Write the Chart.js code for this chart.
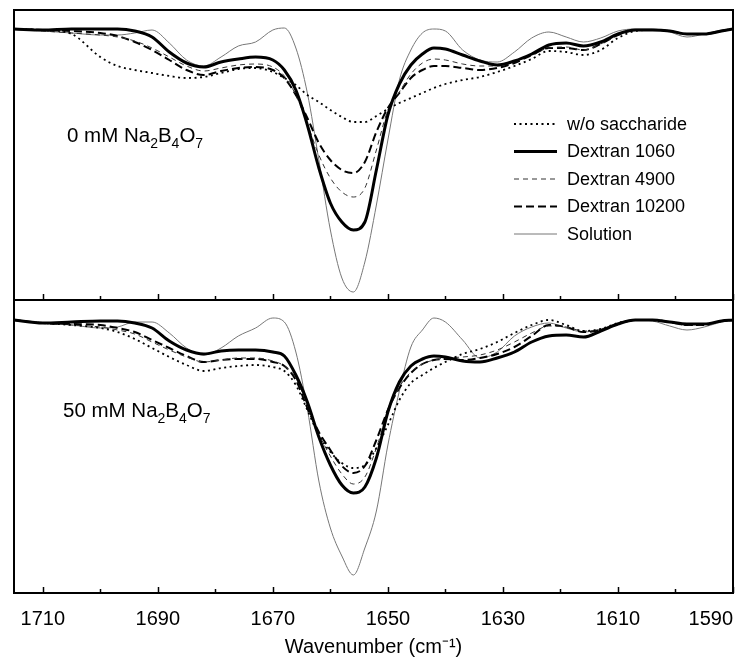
<!DOCTYPE html>
<html>
<head>
<meta charset="utf-8">
<script src="https://cdn.jsdelivr.net/npm/chart.js@4.4.0/dist/chart.umd.min.js"></script>
<style>
  body { margin: 0; background: #fff; }
  #wrap { position: relative; width: 746px; height: 664px; }
  #topPanel { position: absolute; left: 0; top: 0; }
  #bottomPanel { position: absolute; left: 0; top: 298px; }
</style>
</head>
<body>
<div id="wrap">
  <canvas id="topPanel" width="746" height="304"></canvas>
  <canvas id="bottomPanel" width="746" height="366"></canvas>
</div>
<script>
// wavenumber grid (cm-1), shared by both panels
const wavenumbers = [1715, 1710, 1705, 1700, 1697, 1694, 1691, 1688, 1685, 1682, 1679, 1676, 1673, 1670, 1668, 1666, 1664, 1662, 1660, 1658, 1656, 1654, 1652, 1650, 1648, 1646, 1644, 1642, 1640, 1637, 1634, 1631, 1628, 1625, 1622, 1619, 1616, 1613, 1610, 1607, 1604, 1601, 1598, 1595, 1592, 1590];

const seriesNames = ['w/o saccharide', 'Dextran 1060', 'Dextran 4900', 'Dextran 10200', 'Solution'];

// top panel: 0 mM borate (arbitrary units)
const top0mMWo = [271, 270, 266, 243, 234, 230, 227, 224, 222, 223, 227, 231, 232, 228, 222, 215, 205, 198, 190, 183, 178, 178, 184, 191, 197, 202, 207, 212, 216, 220, 223, 228, 234, 241, 249, 248, 245, 250, 262, 269, 270, 269, 266, 266, 269, 271];
const top0mMDex1060 = [271, 270, 271, 271, 271, 269, 263, 248, 237, 233, 238, 241, 243, 240, 230, 210, 175, 132, 97, 78, 70, 78, 130, 185, 216, 235, 246, 252, 251, 245, 239, 235, 239, 246, 255, 257, 254, 258, 266, 270, 270, 269, 266, 266, 269, 271];
const top0mMDex4900 = [271, 269, 267, 265, 263, 259, 252, 243, 234, 229, 232, 235, 236, 233, 224, 205, 176, 145, 122, 108, 103, 112, 150, 190, 208, 226, 237, 241, 240, 236, 234, 234, 238, 245, 252, 253, 250, 256, 265, 270, 270, 269, 266, 266, 269, 271];
const top0mMDex10200 = [271, 270, 269, 267, 264, 258, 250, 240, 230, 225, 229, 232, 233, 230, 222, 205, 182, 157, 140, 130, 127, 138, 168, 192, 207, 222, 230, 234, 234, 232, 230, 232, 237, 245, 252, 252, 250, 256, 265, 270, 270, 269, 266, 266, 269, 271];
const top0mMSolution = [271, 269, 267, 265, 265, 267, 270, 257, 240, 234, 243, 254, 258, 270, 272, 252, 207, 140, 70, 22, 8, 38, 95, 160, 220, 250, 267, 271, 269, 250, 240, 238, 248, 262, 268, 263, 258, 262, 269, 271, 271, 268, 263, 266, 270, 271];

// bottom panel: 50 mM borate (arbitrary units)
const bot50mMWo = [273, 270, 268, 265, 261, 254, 245, 236, 228, 222, 225, 227, 228, 226, 222, 208, 183, 158, 141, 130, 125, 128, 145, 168, 193, 210, 218, 225, 231, 239, 244, 251, 260, 268, 273, 268, 262, 264, 270, 273, 273, 271, 268, 268, 272, 273];
const bot50mMDex1060 = [273, 270, 271, 272, 272, 270, 265, 252, 243, 239, 242, 243, 243, 241, 237, 218, 191, 156, 128, 108, 100, 106, 135, 181, 211, 227, 234, 237, 236, 232, 231, 235, 241, 251, 257, 258, 256, 262, 269, 273, 273, 271, 269, 269, 272, 273];
const bot50mMDex4900 = [273, 270, 268, 266, 263, 259, 251, 243, 236, 231, 233, 235, 235, 232, 227, 215, 188, 159, 137, 119, 109, 116, 145, 181, 206, 221, 229, 233, 235, 236, 238, 243, 251, 260, 267, 266, 262, 263, 269, 273, 273, 271, 268, 268, 272, 273];
const bot50mMDex10200 = [273, 270, 269, 268, 265, 261, 253, 245, 237, 231, 233, 234, 234, 231, 227, 213, 185, 161, 143, 127, 120, 127, 153, 183, 205, 220, 229, 233, 234, 233, 235, 239, 246, 257, 268, 266, 261, 263, 269, 273, 273, 271, 268, 268, 272, 273];
const bot50mMSolution = [273, 270, 268, 265, 266, 271, 271, 260, 245, 238, 245, 257, 265, 275, 271, 241, 184, 112, 65, 37, 18, 45, 82, 148, 202, 246, 263, 275, 271, 253, 235, 241, 257, 266, 270, 265, 261, 264, 270, 273, 272, 267, 263, 266, 271, 273];

const tickValues = [1590, 1600, 1610, 1620, 1630, 1640, 1650, 1660, 1670, 1680, 1690, 1700, 1710];
const tickLabels = [1710, 1690, 1670, 1650, 1630, 1610, 1590];

const panelLabels = ['0 mM Na_2B_4O_7', '50 mM Na_2B_4O_7'];

const lineStyles = [
  { color: '#000', width: 1.8, dash: [2, 3.5] },
  { color: '#000', width: 3, dash: [] },
  { color: '#333', width: 1, dash: [5, 4] },
  { color: '#000', width: 2, dash: [8, 4] },
  { color: '#777', width: 1, dash: [] },
];

Chart.defaults.font.family = "'Liberation Sans', Arial, sans-serif";
Chart.defaults.color = '#000';

function buildDatasets(series) {
  return seriesNames.map((name, i) => ({
    label: name,
    data: wavenumbers.map((w, j) => ({ x: w, y: series[i][j] })),
    borderColor: lineStyles[i].color,
    borderWidth: lineStyles[i].width,
    borderDash: lineStyles[i].dash,
    pointRadius: 0,
    cubicInterpolationMode: 'monotone',
    fill: false,
  }));
}

// draws text where "_d" makes a subscript
function drawChem(ctx, text, x, y, size) {
  const parts = text.split(/(_\d)/).filter(p => p.length);
  let cx = x;
  ctx.textBaseline = 'alphabetic';
  ctx.textAlign = 'left';
  ctx.fillStyle = '#000';
  parts.forEach(p => {
    if (p[0] === '_') {
      ctx.font = Math.round(size * 0.68) + "px 'Liberation Sans', Arial, sans-serif";
      ctx.fillText(p.slice(1), cx, y + size * 0.28);
      cx += ctx.measureText(p.slice(1)).width;
    } else {
      ctx.font = size + "px 'Liberation Sans', Arial, sans-serif";
      ctx.fillText(p, cx, y);
      cx += ctx.measureText(p).width;
    }
  });
}

const framePlugin = {
  id: 'frame',
  afterDatasetsDraw(chart, args, opts) {
    const { ctx, chartArea: a } = chart;
    const xs = chart.scales.x;
    ctx.save();
    ctx.strokeStyle = '#000';
    ctx.lineWidth = 2;
    ctx.strokeRect(a.left, a.top, a.right - a.left, a.bottom - a.top);
    ctx.lineWidth = 1.5;
    tickValues.forEach(v => {
      const px = Math.round(xs.getPixelForValue(v)) + 0.5;
      const len = tickLabels.includes(v) ? 6 : 4;
      ctx.beginPath();
      ctx.moveTo(px, a.bottom);
      ctx.lineTo(px, a.bottom - len);
      ctx.stroke();
    });
    drawChem(ctx, opts.label, opts.labelX, opts.labelY, 20.5);
    if (opts.legend) {
      chart.data.datasets.forEach((ds, i) => {
        const y = opts.legendY + i * 27.5;
        ctx.strokeStyle = ds.borderColor;
        ctx.lineWidth = ds.borderWidth;
        ctx.setLineDash(ds.borderDash);
        ctx.beginPath();
        ctx.moveTo(opts.legendX, y);
        ctx.lineTo(opts.legendX + 43, y);
        ctx.stroke();
        ctx.setLineDash([]);
        ctx.fillStyle = '#000';
        ctx.font = "18px 'Liberation Sans', Arial, sans-serif";
        ctx.textBaseline = 'middle';
        ctx.textAlign = 'left';
        ctx.fillText(ds.label, opts.legendX + 53, y + 1);
      });
    }
    ctx.restore();
  }
};

function panelOptions(isBottom, yMax, frameOpts) {
  return {
    responsive: false,
    animation: false,
    layout: { padding: { left: 14, right: 13, top: isBottom ? 2 : 10, bottom: isBottom ? 0 : 4 } },
    plugins: {
      legend: { display: false },
      tooltip: { enabled: false },
      frame: frameOpts,
    },
    scales: {
      x: {
        type: 'linear',
        min: 1590,
        max: 1715,
        reverse: true,
        display: isBottom,
        // label ticks; the trailing 1715 only anchors the 'inner' alignment at the left edge
        afterBuildTicks: (axis) => { axis.ticks = tickValues.concat([1715]).map(v => ({ value: v })); },
        afterFit: (axis) => {
          if (isBottom) axis.height = 71;
          axis.paddingLeft = 0;
          axis.paddingRight = 0;
        },
        grid: { display: false, drawTicks: false },
        border: { display: false },
        ticks: {
          autoSkip: false,
          maxRotation: 0,
          align: 'inner',
          padding: 14,
          color: '#000',
          font: { size: 20 },
          callback: (v) => tickLabels.includes(v) ? String(v) : '',
        },
        title: {
          display: true,
          text: 'Wavenumber (cm⁻¹)',
          color: '#000',
          font: { size: 20 },
          padding: { top: 0, bottom: 5 },
        },
      },
      y: { display: false, min: 0, max: yMax },
    },
  };
}

new Chart(document.getElementById('topPanel'), {
  type: 'line',
  data: { datasets: buildDatasets([top0mMWo, top0mMDex1060, top0mMDex4900, top0mMDex10200, top0mMSolution]) },
  options: panelOptions(false, 290, { label: panelLabels[0], labelX: 67, labelY: 142, legend: true, legendX: 514, legendY: 124 }),
  plugins: [framePlugin],
});

new Chart(document.getElementById('bottomPanel'), {
  type: 'line',
  data: { datasets: buildDatasets([bot50mMWo, bot50mMDex1060, bot50mMDex4900, bot50mMDex10200, bot50mMSolution]) },
  options: panelOptions(true, 293, { label: panelLabels[1], labelX: 63, labelY: 119, legend: false }),
  plugins: [framePlugin],
});
</script>
</body>
</html>
